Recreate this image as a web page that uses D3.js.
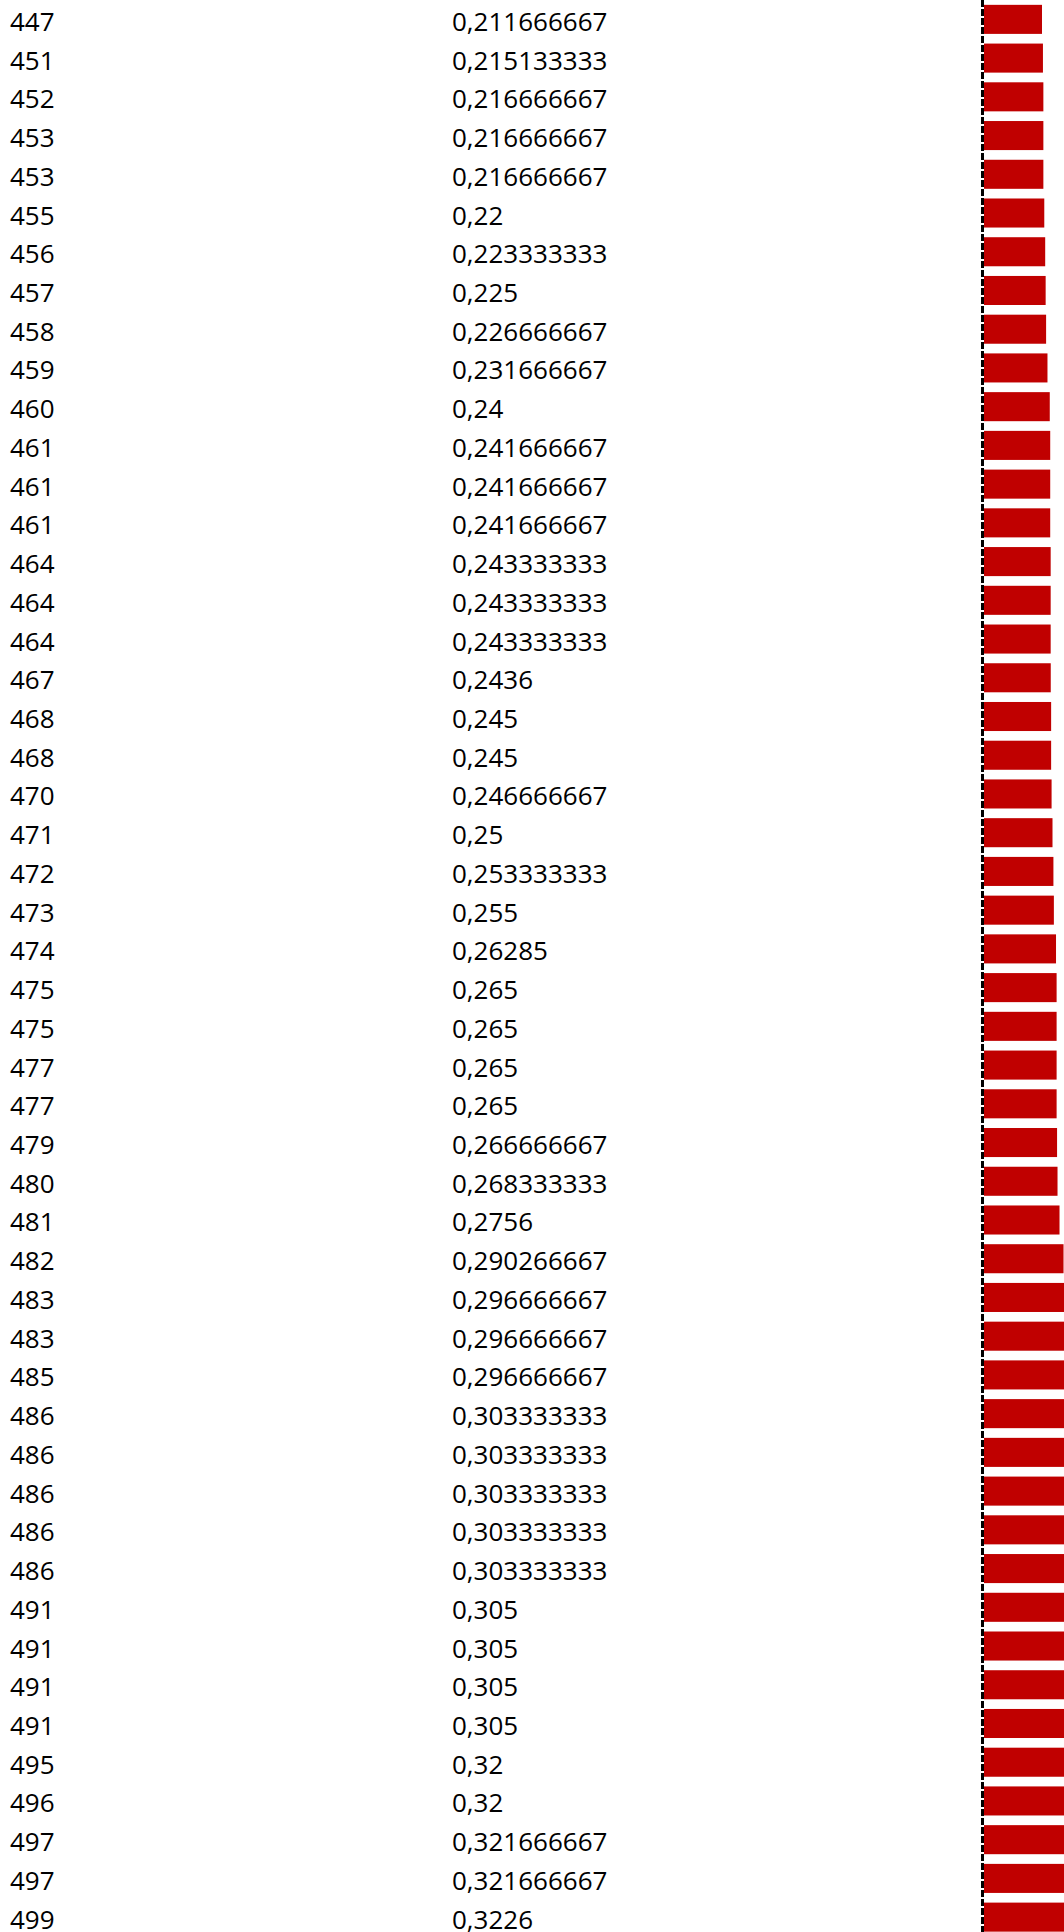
<!DOCTYPE html>
<html>
<head>
<meta charset="utf-8">
<script src="https://cdn.jsdelivr.net/npm/d3@7"></script>
<style>
  body { margin: 0; background: #fff; }
  svg text { font-family: "Open Sans", sans-serif; font-size: 26px; fill: #000; }
</style>
</head>
<body>
<div id="chart"></div>
<script>
var svgWidth = 1064;
var svgHeight = 1932;

// rank column
var ranks = [447, 451, 452, 453, 453, 455, 456, 457, 458, 459,
  460, 461, 461, 461, 464, 464, 464, 467, 468, 468,
  470, 471, 472, 473, 474, 475, 475, 477, 477, 479,
  480, 481, 482, 483, 483, 485, 486, 486, 486, 486,
  486, 491, 491, 491, 491, 495, 496, 497, 497, 499];

// value column, as shown in the sheet
var valueLabels = ["0,211666667", "0,215133333", "0,216666667", "0,216666667", "0,216666667",
  "0,22", "0,223333333", "0,225", "0,226666667", "0,231666667",
  "0,24", "0,241666667", "0,241666667", "0,241666667", "0,243333333",
  "0,243333333", "0,243333333", "0,2436", "0,245", "0,245",
  "0,246666667", "0,25", "0,253333333", "0,255", "0,26285",
  "0,265", "0,265", "0,265", "0,265", "0,266666667",
  "0,268333333", "0,2756", "0,290266667", "0,296666667", "0,296666667",
  "0,296666667", "0,303333333", "0,303333333", "0,303333333", "0,303333333",
  "0,303333333", "0,305", "0,305", "0,305", "0,305",
  "0,32", "0,32", "0,321666667", "0,321666667", "0,3226"];

var values = valueLabels.map(function(s) { return +s.replace(",", "."); });

var rows = ranks.map(function(r, i) {
  return { i: i, rank: r, label: valueLabels[i], value: values[i] };
});

var svg = d3.select("#chart")
  .append("svg")
  .attr("width", svgWidth)
  .attr("height", svgHeight);

var yScale = d3.scaleBand()
  .domain(rows.map(d => d.i))
  .range([0, 50 * 38.73])
  .paddingInner(0.25)
  .paddingOuter(0.125);

// bars start right of the dashed axis line, zero based
var xScale = d3.scaleLinear()
  .domain([0, 0.1])
  .range([984, 984 + 27.4]);

svg.selectAll("rect.bar")
  .data(rows)
  .enter()
  .append("rect")
  .attr("class", "bar")
  .attr("x", xScale(0))
  .attr("y", d => yScale(d.i))
  .attr("width", d => xScale(d.value) - xScale(0))
  .attr("height", yScale.bandwidth())
  .attr("fill", "#c00000");

// dashed vertical axis
var leftAxis = d3.axisLeft(yScale).tickSize(0).tickFormat("");
svg.append("g")
  .attr("transform", `translate(${xScale(0) - 1.5}, 0)`)
  .call(leftAxis)
  .call(g => g.select(".domain")
    .attr("d", `M0,0V${svgHeight}`)
    .attr("stroke", "#000")
    .attr("stroke-width", 3)
    .attr("stroke-dasharray", "7,2"));

// rank text
svg.selectAll("text.rank")
  .data(rows)
  .enter()
  .append("text")
  .attr("class", "rank")
  .attr("x", 10)
  .attr("y", d => yScale(d.i) + yScale.bandwidth() / 2 + 11.5)
  .text(d => d.rank);

// value text
svg.selectAll("text.val")
  .data(rows)
  .enter()
  .append("text")
  .attr("class", "val")
  .attr("x", 452)
  .attr("y", d => yScale(d.i) + yScale.bandwidth() / 2 + 11.5)
  .text(d => d.label);
</script>
</body>
</html>
